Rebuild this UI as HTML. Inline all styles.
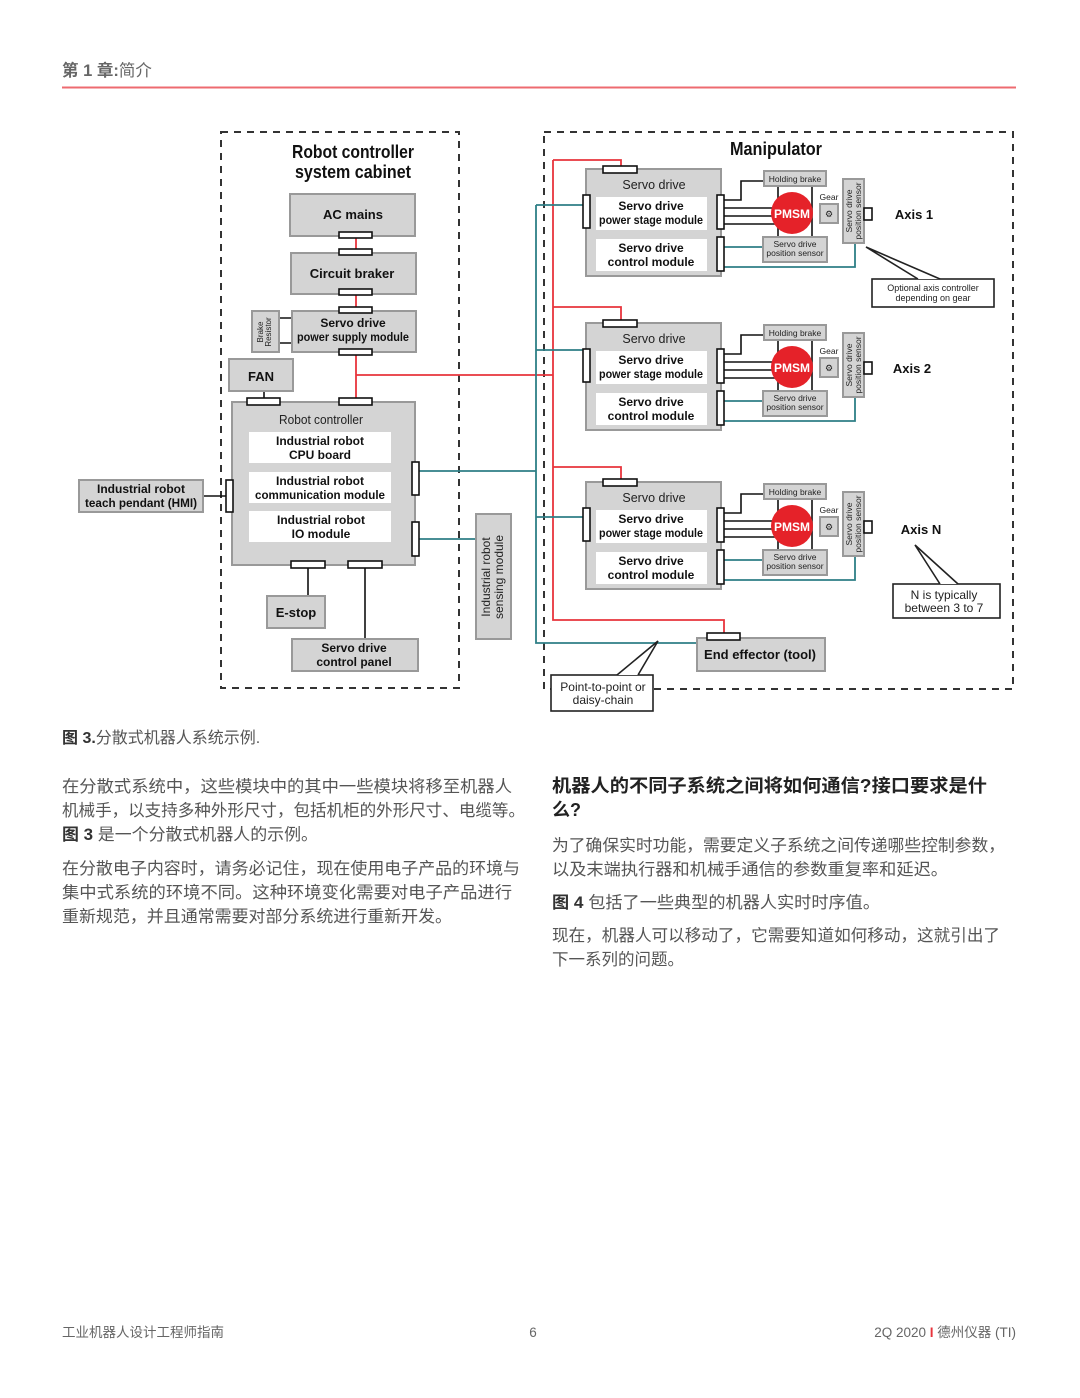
<!DOCTYPE html>
<html><head><meta charset="utf-8"><style>
html,body{margin:0;padding:0;background:#fff;}
svg{display:block;}
.c{font-family:"Liberation Sans","Noto Sans CJK SC",sans-serif;}
.b{font-family:"Liberation Sans",sans-serif;font-weight:bold;fill:#111;}
.n{font-family:"Liberation Sans",sans-serif;fill:#222;}
.box{fill:#d4d4d4;stroke:#999;stroke-width:2;}
.wb{fill:#fff;stroke:none;}
.con{fill:#fff;stroke:#111;stroke-width:1.6;}
.red{stroke:#e8343c;stroke-width:1.8;fill:none;}
.teal{stroke:#2e7f86;stroke-width:1.8;fill:none;}
.blk{stroke:#111;stroke-width:1.6;fill:none;}
.dash{fill:none;stroke:#333;stroke-width:2;stroke-dasharray:7,6;}
</style></head><body>
<svg width="1080" height="1398" viewBox="0 0 1080 1398" xmlns="http://www.w3.org/2000/svg">
<text x="62" y="76" class="c" font-size="16.5" fill="#666"><tspan font-weight="bold">第 1 章:</tspan>简介</text>
<line x1="62" y1="87.5" x2="1016" y2="87.5" stroke="#ee6b70" stroke-width="2"/>

<rect x="221" y="132" width="238" height="556" class="dash"/>
<rect x="544" y="132" width="469" height="557" class="dash"/>

<path class="red" d="M356 355 V402 M356 375 H553 M553 160 V620 H724 V634 M553 160 H621 V168 M553 307 H621 V322 M553 467 H621 V481 M356 236 V252 M356 295 V311"/>
<path class="teal" d="M419 471 H536 M536 205 V643 H697 M536 205 H585 M536 350 H585 M536 517 H585 M419 539 H476"/>
<path class="blk" d="M233 496 H203 M264 391 V400 M279 318 H292 M279 343 H292 M308 568 V596 M365 568 V639"/>

<text x="353" y="158" class="b" font-size="18" text-anchor="middle" textLength="122" lengthAdjust="spacingAndGlyphs">Robot controller</text>
<text x="353" y="178" class="b" font-size="18" text-anchor="middle" textLength="116" lengthAdjust="spacingAndGlyphs">system cabinet</text>

<rect x="290" y="194" width="125" height="42" class="box"/>
<text x="353" y="219" class="b" font-size="13" text-anchor="middle">AC mains</text>
<rect x="339" y="232" width="33" height="6" class="con"/>
<rect x="291" y="253" width="125" height="41" class="box"/>
<text x="352" y="278" class="b" font-size="13" text-anchor="middle">Circuit braker</text>
<rect x="339" y="249" width="33" height="6" class="con"/>
<rect x="339" y="289" width="33" height="6" class="con"/>
<rect x="292" y="311" width="124" height="41" class="box"/>
<text x="353" y="327" class="b" font-size="12" text-anchor="middle">Servo drive</text>
<text x="353" y="341" class="b" font-size="12" text-anchor="middle" textLength="112" lengthAdjust="spacingAndGlyphs">power supply module</text>
<rect x="339" y="307" width="33" height="6" class="con"/>
<rect x="339" y="349" width="33" height="6" class="con"/>
<rect x="252" y="311" width="27" height="41" class="box"/>
<text transform="translate(263,332) rotate(-90)" class="n" font-size="8" text-anchor="middle">Brake</text>
<text transform="translate(271,332) rotate(-90)" class="n" font-size="8" text-anchor="middle">Resistor</text>
<rect x="229" y="359" width="64" height="32" class="box"/>
<text x="261" y="381" class="b" font-size="13" text-anchor="middle">FAN</text>

<rect x="232" y="402" width="183" height="163" class="box"/>
<rect x="247" y="398" width="33" height="7" class="con"/>
<rect x="339" y="398" width="33" height="7" class="con"/>
<text x="321" y="424" class="n" font-size="12.5" text-anchor="middle" textLength="84" lengthAdjust="spacingAndGlyphs">Robot controller</text>
<rect x="249" y="432" width="142" height="31" class="wb"/>
<text x="320" y="445" class="b" font-size="12" text-anchor="middle">Industrial robot</text>
<text x="320" y="459" class="b" font-size="12" text-anchor="middle">CPU board</text>
<rect x="249" y="472" width="142" height="31" class="wb"/>
<text x="320" y="485" class="b" font-size="12" text-anchor="middle">Industrial robot</text>
<text x="320" y="499" class="b" font-size="12" text-anchor="middle" textLength="130" lengthAdjust="spacingAndGlyphs">communication module</text>
<rect x="249" y="511" width="142" height="31" class="wb"/>
<text x="321" y="524" class="b" font-size="12" text-anchor="middle">Industrial robot</text>
<text x="321" y="538" class="b" font-size="12" text-anchor="middle">IO module</text>
<rect x="412" y="462" width="7" height="33" class="con"/>
<rect x="412" y="522" width="7" height="34" class="con"/>
<rect x="226" y="480" width="7" height="32" class="con"/>
<rect x="291" y="561" width="34" height="7" class="con"/>
<rect x="348" y="561" width="34" height="7" class="con"/>

<rect x="79" y="480" width="124" height="32" class="box"/>
<text x="141" y="493" class="b" font-size="12" text-anchor="middle">Industrial robot</text>
<text x="141" y="507" class="b" font-size="12" text-anchor="middle" textLength="112" lengthAdjust="spacingAndGlyphs">teach pendant (HMI)</text>

<rect x="267" y="596" width="58" height="32" class="box"/>
<text x="296" y="617" class="b" font-size="13" text-anchor="middle">E-stop</text>
<rect x="292" y="639" width="126" height="32" class="box"/>
<text x="354" y="652" class="b" font-size="12" text-anchor="middle">Servo drive</text>
<text x="354" y="666" class="b" font-size="12" text-anchor="middle">control panel</text>

<rect x="476" y="514" width="35" height="125" class="box"/>
<text transform="translate(490,577) rotate(-90)" class="n" font-size="12" text-anchor="middle">Industrial robot</text>
<text transform="translate(503,577) rotate(-90)" class="n" font-size="12" text-anchor="middle">sensing module</text>

<text x="776" y="155" class="b" font-size="18" text-anchor="middle" textLength="92" lengthAdjust="spacingAndGlyphs">Manipulator</text>

<defs>
<g id="sd">
<rect x="586" y="169" width="135" height="107" class="box"/>
<rect x="603" y="166" width="34" height="7" class="con"/>
<text x="654" y="189" class="n" font-size="12.5" text-anchor="middle">Servo drive</text>
<rect x="596" y="197" width="111" height="33" class="wb"/>
<text x="651" y="210" class="b" font-size="12" text-anchor="middle">Servo drive</text>
<text x="651" y="224" class="b" font-size="12" text-anchor="middle" textLength="104" lengthAdjust="spacingAndGlyphs">power stage module</text>
<rect x="596" y="239" width="111" height="32" class="wb"/>
<text x="651" y="252" class="b" font-size="12" text-anchor="middle">Servo drive</text>
<text x="651" y="266" class="b" font-size="12" text-anchor="middle">control module</text>
<rect x="583" y="195" width="7" height="33" class="con"/>
<path class="blk" d="M724 200 H741 V181 H764 M724 208 H775 M724 216 H775 M724 224 H775 M778 186 V237 M812 186 V237"/>
<path class="teal" d="M724 247 H763 M724 267 H855 V243"/>
<rect x="717" y="195" width="7" height="34" class="con"/>
<rect x="717" y="237" width="7" height="34" class="con"/>
<rect x="764" y="171" width="62" height="15" class="box"/>
<text x="795" y="182" class="n" font-size="8.5" text-anchor="middle">Holding brake</text>
<circle cx="792" cy="213" r="21" fill="#e52229"/>
<text x="792" y="218" font-family="Liberation Sans" font-weight="bold" font-size="12" fill="#fff" text-anchor="middle">PMSM</text>
<text x="829" y="200" class="n" font-size="8.5" text-anchor="middle">Gear</text>
<rect x="820" y="204" width="18" height="19" class="box"/>
<text x="829" y="217" class="n" font-size="9" text-anchor="middle">⚙</text>
<rect x="843" y="179" width="21" height="64" class="box"/>
<rect x="864" y="208" width="8" height="12" class="con"/>
<text transform="translate(852,211) rotate(-90)" class="n" font-size="8.5" text-anchor="middle">Servo drive</text>
<text transform="translate(861,211) rotate(-90)" class="n" font-size="8.5" text-anchor="middle">position sensor</text>
<rect x="763" y="237" width="64" height="25" class="box"/>
<text x="795" y="247" class="n" font-size="8.5" text-anchor="middle">Servo drive</text>
<text x="795" y="256" class="n" font-size="8.5" text-anchor="middle">position sensor</text>
</g>
</defs>
<use href="#sd"/>
<use href="#sd" y="154"/>
<use href="#sd" y="313"/>

<text x="914" y="219" class="b" font-size="13" text-anchor="middle">Axis 1</text>
<text x="912" y="373" class="b" font-size="13" text-anchor="middle">Axis 2</text>
<text x="921" y="534" class="b" font-size="13" text-anchor="middle">Axis N</text>

<rect x="872" y="279" width="122" height="28" fill="#fff" stroke="#222" stroke-width="1.6"/>
<path d="M918 279 L866 247 L940 279" fill="#fff" stroke="#222" stroke-width="1.6"/>
<text x="933" y="291" class="n" font-size="9" text-anchor="middle">Optional axis controller</text>
<text x="933" y="301" class="n" font-size="9" text-anchor="middle">depending on gear</text>

<rect x="893" y="584" width="107" height="34" fill="#fff" stroke="#222" stroke-width="1.6"/>
<path d="M940 584 L915 545 L958 584" fill="#fff" stroke="#222" stroke-width="1.6"/>
<text x="944" y="599" class="n" font-size="12" text-anchor="middle">N is typically</text>
<text x="944" y="612" class="n" font-size="12" text-anchor="middle">between 3 to 7</text>

<rect x="697" y="638" width="128" height="33" class="box"/>
<rect x="707" y="633" width="33" height="7" class="con"/>
<text x="760" y="659" class="b" font-size="13" text-anchor="middle">End effector (tool)</text>

<rect x="551" y="675" width="102" height="36" fill="#fff" stroke="#222" stroke-width="1.6"/>
<path d="M617 675 L658 641 L638 675" fill="#fff" stroke="#222" stroke-width="1.6"/>
<text x="603" y="691" class="n" font-size="12" text-anchor="middle">Point-to-point or</text>
<text x="603" y="704" class="n" font-size="12" text-anchor="middle">daisy-chain</text>

<text x="62" y="743" class="c" font-size="16" fill="#555"><tspan font-weight="bold" fill="#333">图 3.</tspan>分散式机器人系统示例.</text>

<g class="c" font-size="16.5" fill="#555">
<text x="62" y="792" textLength="450" lengthAdjust="spacingAndGlyphs">在分散式系统中，这些模块中的其中一些模块将移至机器人</text>
<text x="62" y="816" textLength="463" lengthAdjust="spacingAndGlyphs">机械手，以支持多种外形尺寸，包括机柜的外形尺寸、电缆等。</text>
<text x="62" y="840" textLength="256" lengthAdjust="spacingAndGlyphs"><tspan font-weight="bold" fill="#333">图 3</tspan> 是一个分散式机器人的示例。</text>
<text x="62" y="874" textLength="458" lengthAdjust="spacingAndGlyphs">在分散电子内容时，请务必记住，现在使用电子产品的环境与</text>
<text x="62" y="898" textLength="450" lengthAdjust="spacingAndGlyphs">集中式系统的环境不同。这种环境变化需要对电子产品进行</text>
<text x="62" y="922" textLength="390" lengthAdjust="spacingAndGlyphs">重新规范，并且通常需要对部分系统进行重新开发。</text>

<text x="552" y="792" font-size="18" font-weight="bold" fill="#222" textLength="435" lengthAdjust="spacingAndGlyphs">机器人的不同子系统之间将如何通信?接口要求是什</text>
<text x="552" y="816" font-size="18" font-weight="bold" fill="#222">么?</text>
<text x="552" y="851" textLength="453" lengthAdjust="spacingAndGlyphs">为了确保实时功能，需要定义子系统之间传递哪些控制参数，</text>
<text x="552" y="875" textLength="396" lengthAdjust="spacingAndGlyphs">以及末端执行器和机械手通信的参数重复率和延迟。</text>
<text x="552" y="908" textLength="328" lengthAdjust="spacingAndGlyphs"><tspan font-weight="bold" fill="#333">图 4</tspan> 包括了一些典型的机器人实时时序值。</text>
<text x="552" y="941" textLength="448" lengthAdjust="spacingAndGlyphs">现在，机器人可以移动了，它需要知道如何移动，这就引出了</text>
<text x="552" y="965">下一系列的问题。</text>
</g>

<text x="62" y="1337" class="c" font-size="13.5" fill="#666">工业机器人设计工程师指南</text>
<text x="533" y="1337" class="c" font-size="13.5" fill="#666" text-anchor="middle">6</text>
<text x="1016" y="1337" class="c" font-size="13.5" fill="#666" text-anchor="end">2Q 2020 <tspan fill="#e8343c" font-weight="bold">I</tspan> 德州仪器 (TI)</text>
</svg>
</body></html>
